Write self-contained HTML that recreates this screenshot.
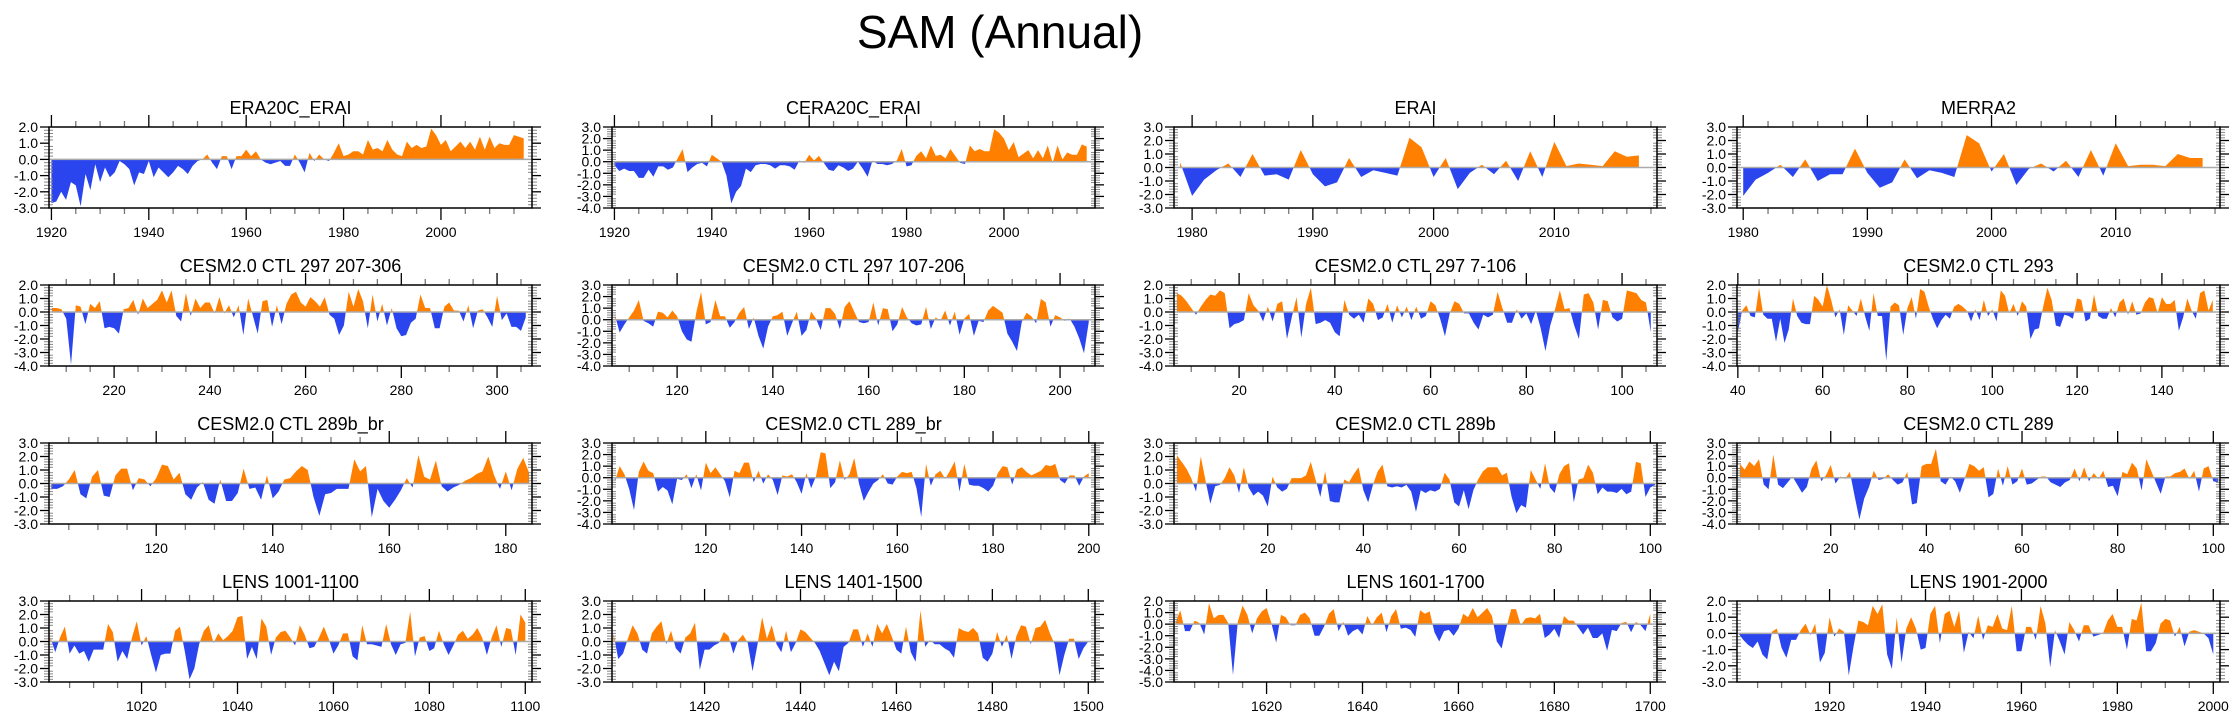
<!DOCTYPE html>
<html><head><meta charset="utf-8">
<style>
html,body{margin:0;padding:0;background:#fff;}
svg{display:block;font-family:"Liberation Sans",Arial,sans-serif;}
</style></head>
<body>
<svg id="chart" width="2238" height="719" viewBox="0 0 2238 719" xmlns="http://www.w3.org/2000/svg">
<text x="1000" y="48" font-size="46" text-anchor="middle" fill="#000">SAM (Annual)</text>
</svg>
<script>
// ---- data (one array per panel) ----
const titles = ["ERA20C_ERAI","CERA20C_ERAI","ERAI","MERRA2",
 "CESM2.0 CTL 297 207-306","CESM2.0 CTL 297 107-206","CESM2.0 CTL 297 7-106","CESM2.0 CTL 293",
 "CESM2.0 CTL 289b_br","CESM2.0 CTL 289_br","CESM2.0 CTL 289b","CESM2.0 CTL 289",
 "LENS 1001-1100","LENS 1401-1500","LENS 1601-1700","LENS 1901-2000"];
const startYears = [1920,1920,1979,1980, 207,107,7,40, 102,101,1,1, 1001,1401,1601,1901];
const xMins = [1919.5,1919.5,1978.5,1979.5, 206.4,106.4,6.4,39.8, 101.6,100.4,0.4,0.4, 1000.7,1400.7,1600.7,1900.7];
const xMaxs = [2018.7,2018.7,2018.5,2018.4, 307.3,207.3,107.3,153.7, 184.5,201.3,101.4,101.4, 1101.4,1501.4,1701.4,2001.4];
const yMins = [-3,-4,-3,-3, -4,-4,-4,-4, -3,-4,-3,-4, -3,-3,-5,-3];
const yMaxs = [2,3,3,3, 2,3,2,2, 3,3,3,3, 3,3,2,2];
const xMajor = [20,20,10,10, 20,20,20,20, 20,20,20,20, 20,20,20,20];
const xMinor = [5,5,2,2, 5,5,5,5, 5,5,5,5, 5,5,5,5];

const sEra20c = [-2.7,-2.6,-2.0,-2.5,-1.4,-1.6,-2.9,-0.9,-1.9,-0.3,-1.4,-0.5,-1.1,-0.8,-0.1,-0.3,-0.6,-1.6,-0.8,-0.9,-0.1,-1.1,-0.5,-0.8,-1.1,-0.8,-0.4,-0.6,-0.9,-0.4,-0.1,0.0,0.3,-0.2,-0.6,0.2,0.2,-0.6,0.2,0.2,0.6,0.2,0.5,0.0,-0.2,-0.3,-0.2,-0.1,-0.4,-0.4,0.3,-0.2,-0.8,0.4,-0.1,0.3,0.0,-0.1,0.4,1.0,0.2,0.3,0.5,0.5,0.3,1.2,0.6,0.7,0.5,1.2,0.6,0.3,0.2,1.1,0.7,0.9,0.7,0.8,1.9,1.5,0.9,1.2,0.5,0.8,1.1,0.7,1.1,0.6,1.4,0.6,1.4,0.7,1.0,0.9,0.9,1.5,1.4,1.3];
const sCera20c = [-0.3,-0.8,-0.6,-0.8,-0.8,-1.4,-1.4,-0.7,-1.3,-0.4,-0.4,-0.7,-0.5,0.3,1.1,-0.9,-0.5,-0.2,-0.1,-0.4,0.6,0.3,0.0,-1.2,-3.6,-2.6,-2.1,-0.6,-0.9,-0.3,-0.2,-0.2,-0.3,-0.6,-0.3,-0.3,-0.4,-0.7,0.1,-0.1,0.6,0.1,0.5,-0.1,-0.7,-0.8,-0.3,-0.5,-0.8,-0.6,0.0,-0.6,-1.3,0.1,-0.2,-0.2,-0.3,-0.2,0.1,1.1,-0.4,-0.3,0.5,0.9,0.3,1.4,0.5,0.6,0.3,1.1,0.5,-0.1,-0.2,1.4,0.9,1.1,0.9,0.9,2.8,2.5,2.0,1.0,1.7,0.4,0.7,1.0,0.3,1.0,0.3,1.4,-0.1,1.4,0.2,0.8,0.6,0.6,1.5,1.3];
const sErai = [0.4,-2.1,-0.9,-0.2,0.3,-0.7,1.0,-0.6,-0.5,-0.9,1.3,-0.5,-1.4,-1.1,0.7,-0.7,-0.2,-0.4,-0.6,2.2,1.5,-0.7,0.7,-1.6,-0.4,0.2,-0.5,0.5,-1.0,1.2,-0.7,1.9,0.1,0.3,0.2,0.1,1.2,0.8,0.9];
const sMerra2 = [-2.1,-0.9,-0.4,0.2,-0.7,0.6,-1.0,-0.5,-0.5,1.4,-0.4,-1.5,-1.1,0.6,-0.8,-0.2,-0.4,-0.7,2.4,1.8,-0.3,1.0,-1.3,-0.1,0.3,-0.3,0.5,-0.7,1.3,-0.6,1.8,0.1,0.2,0.2,0.1,1.0,0.7,0.7];
const sCtl297a = [0.3,0.3,0.2,-0.5,-3.9,0.5,0.4,-0.9,0.6,0.3,0.8,-1.2,-1.1,-1.2,-1.6,0.2,0.3,0.9,-0.2,1.0,0.3,0.6,0.9,1.6,0.7,1.6,-0.3,-0.7,1.4,-0.3,1.0,0.3,0.7,0.7,-0.1,1.1,-0.1,0.5,-0.4,0.5,-1.7,1.0,-0.3,-1.6,0.8,0.9,-1.1,0.5,-0.9,0.6,1.3,1.5,0.7,0.4,1.1,0.8,0.4,1.1,-0.2,-0.5,-1.7,-1.0,1.5,0.4,1.7,0.8,-1.2,1.3,-0.7,0.6,-1.0,0.3,-1.2,-1.8,-1.7,-0.8,-0.5,1.3,0.3,0.3,-1.2,-1.2,0.4,0.7,0.1,0.1,-0.7,0.5,-1.2,0.1,0.2,-0.4,-1.1,1.2,-0.6,-0.1,-1.1,-1.1,-1.4,-0.4];
const sCtl297b = [0.4,-1.1,-0.4,0.2,0.8,1.7,-0.1,-0.3,-0.6,0.7,0.6,0.2,0.8,0.3,-1.0,-1.7,-1.9,0.6,2.4,-0.4,-0.2,1.7,0.3,0.3,-0.7,-0.2,0.6,1.1,-0.8,0.2,-1.4,-2.5,-0.6,0.3,0.4,0.7,-1.4,-0.3,0.7,-1.4,-0.9,0.7,0.1,-0.9,1.0,1.0,0.5,-0.8,1.1,1.6,0.7,-0.2,-0.3,-0.2,1.5,-0.5,1.0,0.9,-1.0,-0.4,1.1,0.2,-0.3,-0.5,-0.4,1.1,-0.8,0.2,-0.1,0.8,-0.5,0.7,-1.3,0.1,0.5,-1.4,-0.1,-0.2,0.8,1.2,0.9,0.6,-1.2,-1.9,-2.7,-0.2,0.6,0.3,-0.3,1.8,1.5,-0.6,0.4,0.2,-0.1,0.1,-0.6,-1.6,-2.9,-0.2];
const sCtl297c = [1.4,1.2,0.8,0.3,-0.2,0.4,0.9,1.3,1.2,1.6,1.4,-1.2,-0.9,-0.8,-0.6,1.4,0.5,0.1,-0.7,0.4,-0.7,0.6,0.8,-2.0,-0.4,1.1,-1.9,0.6,1.8,-0.9,-0.8,-0.6,-0.8,-1.5,-1.8,0.9,-0.2,-0.5,-0.2,-0.8,1.0,0.6,-0.6,-0.4,0.6,-0.8,0.5,-0.4,0.4,-0.6,0.4,-0.5,-0.3,0.8,0.5,-0.5,-1.8,-0.1,0.8,0.6,-0.1,-0.1,-0.8,-1.3,-0.2,-0.4,-0.2,1.5,0.3,-0.8,-0.8,0.2,-0.5,-0.1,-0.9,0.1,-1.2,-2.9,-1.0,0.2,1.6,0.2,0.3,-1.0,-2.0,1.3,1.4,0.7,-1.3,0.9,0.8,-0.4,-0.7,-0.5,1.6,1.5,1.4,0.9,0.7,-1.5];
const sCtl293 = [-1.5,0.1,0.5,-0.3,-0.4,1.8,-0.2,-0.5,-0.5,-2.2,-0.5,-2.3,-1.3,1.0,-0.3,-0.8,-0.9,-0.9,1.2,0.9,0.4,2.0,0.9,-0.4,0.2,-1.7,0.5,0.1,-0.3,1.0,-0.3,-1.4,1.4,-0.3,-0.3,-3.6,0.4,0.7,0.5,-1.7,0.3,1.1,-0.5,1.7,1.5,0.4,-0.5,-1.2,-0.6,-0.2,-0.5,0.4,0.6,0.4,0.1,-0.7,0.2,-0.6,0.9,-0.3,0.2,-0.7,1.6,1.2,-0.1,0.6,-0.3,0.8,0.4,-2.0,-1.3,-1.2,0.4,1.8,0.9,-1.0,-1.1,-0.2,-0.3,-0.5,1.0,0.9,-0.7,-0.5,1.3,-0.3,-0.5,-0.5,0.3,-0.4,0.7,1.0,-0.2,0.8,-0.2,-0.1,0.7,1.1,1.0,-0.1,1.1,0.6,0.6,0.9,-1.4,-0.4,1.0,0.1,-0.5,1.4,1.6,0.1,0.9];
const sCtl289bbr = [-0.4,-0.4,-0.2,0.3,1.0,-0.8,-1.1,0.5,1.0,-0.9,-1.0,0.6,1.1,1.1,-0.5,0.4,0.3,-0.2,0.4,1.4,1.3,0.3,0.8,-0.8,-1.2,-0.3,0.1,-1.2,-1.5,0.3,-1.3,-1.3,-0.7,1.1,-0.4,-0.3,-1.2,0.6,-1.1,-0.6,0.3,0.4,0.9,1.3,1.0,-1.0,-2.4,-0.8,-0.7,-0.4,-0.4,-0.4,1.8,0.9,1.3,-2.5,-0.4,-1.3,-1.8,-1.2,-0.5,0.4,-0.3,2.1,0.5,0.3,1.7,-0.2,-0.6,-0.3,-0.1,0.2,0.4,0.7,0.9,2.0,0.6,-0.4,0.9,-0.5,1.1,1.9,0.8];
const sCtl289br = [-0.3,1.0,0.3,-1.0,-2.8,0.5,1.4,0.6,0.4,-1.2,-0.8,-1.1,-2.3,-0.1,-0.2,0.3,-0.9,0.3,-1.1,1.3,0.4,0.9,0.3,-0.3,-1.7,0.6,0.4,1.3,1.3,-0.4,0.6,-0.5,0.3,-0.2,-1.5,0.2,0.1,0.3,-0.4,-1.4,0.4,-0.9,0.1,2.2,2.1,-0.9,-0.4,1.5,-0.2,0.3,1.7,-0.5,-2.0,-1.2,-0.5,-0.2,0.3,-0.5,-0.6,0.1,0.5,0.4,0.5,-0.9,-3.4,1.2,-0.7,0.3,0.6,-0.1,0.6,1.4,-1.2,1.2,-0.6,-0.7,-0.7,-0.9,-1.2,-0.7,0.4,1.0,0.9,-0.6,0.7,0.9,0.5,0.2,0.4,0.6,1.1,1.0,1.2,-0.2,-0.5,0.2,0.2,-0.7,0.1,0.4];
const sCtl289b = [2.1,1.6,1.1,0.4,-0.6,2.0,0.2,-1.5,-0.2,-0.1,0.4,1.2,0.6,-0.7,1.2,-0.3,-0.9,-0.6,-0.9,-1.7,0.5,-0.3,-0.6,-0.4,0.4,0.4,0.4,0.6,1.6,0.3,-1.0,0.9,-1.3,-1.4,-1.4,0.3,0.1,0.7,1.2,-0.5,-1.4,-0.1,0.9,1.4,-0.2,-0.3,-0.2,-0.3,-0.1,-0.6,-2.1,-0.5,-0.7,-0.5,-0.6,-0.4,0.8,0.3,-1.4,-1.7,-0.5,-1.9,-0.5,0.3,0.9,1.2,1.2,1.2,0.6,0.8,-1.0,-2.2,-1.6,-1.8,1.0,0.3,-0.4,1.5,-0.3,-0.7,0.7,1.3,1.5,-1.4,0.3,0.4,1.4,0.8,-0.8,-0.3,-0.6,-0.6,-0.7,-0.4,-0.8,-0.6,1.6,1.5,-1.0,-0.3,-0.1];
const sCtl289 = [1.2,0.7,1.4,1.0,1.6,-0.6,-1.0,2.0,-0.6,-0.9,-0.4,0.1,-0.6,-1.3,-0.8,0.8,1.5,-0.3,0.2,1.1,-0.5,0.1,-0.1,0.5,-1.6,-3.6,-1.8,-0.8,0.6,-0.2,-0.1,0.3,-0.2,-0.6,-0.4,0.5,-2.3,-2.2,1.0,1.2,1.2,2.5,-0.3,-0.6,0.1,-0.3,-1.3,-0.1,1.2,1.0,0.6,0.9,-1.7,-1.4,0.8,-0.7,1.0,-0.6,-0.3,0.8,-0.6,-0.5,-0.2,0.1,0.1,-0.4,-0.6,-0.8,-0.4,-0.2,0.8,-0.3,0.9,-0.3,0.4,-0.1,0.6,-0.8,-0.7,-1.6,0.5,0.3,1.3,0.8,-1.1,1.6,0.6,-0.4,-1.4,0.1,0.1,0.4,0.5,0.8,-0.1,0.6,-1.2,0.8,1.0,-0.3,-0.4];
const sLens1001 = [0.3,-0.8,0.3,1.1,-0.9,-0.3,-0.9,-0.7,-1.5,-0.6,-0.6,-0.6,1.3,0.7,-1.5,-0.7,-1.3,0.3,1.5,-0.3,0.4,-1.0,-2.3,-1.0,-0.9,-0.9,0.8,1.1,-0.7,-2.8,-2.0,-0.2,0.8,1.2,-0.1,0.6,0.1,0.4,0.8,1.8,1.9,-1.3,-0.4,-1.3,1.7,1.1,-1.0,0.3,0.7,0.8,0.3,-0.3,1.2,0.5,-0.5,-0.4,0.3,1.1,0.2,-0.9,-0.3,0.6,0.6,-1.1,-1.4,1.2,-0.2,-0.2,-0.3,-0.4,1.3,-0.2,-1.0,-0.2,-0.1,2.2,-1.1,0.3,0.4,-0.7,-0.5,0.8,-0.2,-1.0,-0.3,0.5,0.8,0.2,0.5,1.0,0.3,-1.0,0.3,1.2,-0.4,1.0,0.9,-1.0,2.0,1.4];
const sLens1401 = [0.6,-1.3,-0.9,0.2,1.2,0.6,-0.6,-0.9,0.6,1.1,1.5,-0.2,0.8,-0.5,-0.9,0.3,0.6,1.4,-2.1,-0.6,-0.6,-0.3,-0.1,0.7,0.4,-0.9,0.1,0.5,-0.1,-2.2,-0.3,1.8,0.2,1.2,-0.2,-0.8,0.8,-0.8,-0.1,0.9,0.7,0.3,-0.1,-0.7,-1.6,-2.5,-1.5,-2.2,-0.4,-0.1,0.9,0.9,-0.4,0.6,-0.4,1.3,0.6,1.3,0.4,-0.6,-0.9,1.1,-0.8,-1.5,2.3,-0.4,0.1,-0.2,-0.2,-0.5,-0.7,-1.2,1.0,0.8,0.7,1.0,0.6,-1.2,-1.5,-0.9,0.7,-0.4,0.5,-1.3,0.4,1.2,1.1,-0.2,1.0,1.1,1.6,0.6,-0.2,-2.5,-1.0,0.2,0.2,-1.3,-0.5,0.0];
const sLens1601 = [0.1,1.2,-0.6,-0.6,0.3,0.1,-0.9,1.8,0.5,0.8,0.8,0.1,-4.4,0.2,1.6,0.8,-0.8,0.5,1.1,1.4,0.1,-1.6,0.8,0.6,-0.1,-0.1,0.8,1.0,0.5,-1.0,-1.0,-0.2,0.9,1.3,-0.6,0.2,-1.0,-0.6,-0.4,-0.9,0.7,-0.1,0.6,1.0,-0.7,0.7,1.3,-0.4,-0.3,-0.5,-1.1,1.2,0.9,1.1,-0.7,-1.5,-0.6,-0.5,-1.0,-0.4,0.9,0.6,1.4,0.6,1.0,1.4,0.7,-1.5,-2.1,-0.3,1.3,1.3,-0.1,0.5,0.6,0.5,0.9,-1.2,-0.9,-0.4,-1.2,0.7,0.3,0.3,-0.3,-0.9,-0.3,-1.2,-1.2,-0.8,-2.3,-0.5,-0.6,0.1,0.2,-0.7,0.2,-0.1,-0.6,0.9];
const sLens1901 = [0.0,-0.4,-0.7,-0.9,-0.5,-1.3,-1.6,0.1,0.3,-0.9,-1.5,-0.4,-0.4,0.2,0.6,-0.1,0.6,-1.8,-1.2,1.0,-0.2,0.3,0.1,-2.6,-0.8,0.8,0.7,0.5,1.7,1.2,1.8,-1.3,-2.2,1.0,-1.8,0.3,1.0,0.3,-1.0,-0.9,1.2,1.7,-0.6,1.2,1.4,0.4,1.4,-1.2,0.1,-0.3,1.1,-0.4,0.5,0.4,1.2,0.3,0.2,1.7,-1.1,-1.1,0.4,0.4,-0.4,1.7,0.6,-2.1,0.2,-0.5,-1.3,0.7,0.2,-0.5,0.5,0.5,-0.2,-0.1,0.0,0.8,1.2,0.4,0.4,-1.0,0.9,0.8,1.9,-1.1,-1.1,-0.6,0.6,0.9,0.8,-0.2,0.4,-0.8,0.1,0.2,0.1,0.0,-0.3,-1.3];

const series = [sEra20c,sCera20c,sErai,sMerra2,sCtl297a,sCtl297b,sCtl297c,sCtl293,
 sCtl289bbr,sCtl289br,sCtl289b,sCtl289,sLens1001,sLens1401,sLens1601,sLens1901];

// ---- layout ----
const NS = "http://www.w3.org/2000/svg";
const svg = document.getElementById("chart");
const colLefts = [49,612,1174,1737], rowTops = [127,285,443,601];
const PW = 483, PH = 81;
function mk(tag, attrs, parent){
  const e = document.createElementNS(NS, tag);
  for (const k in attrs) e.setAttribute(k, attrs[k]);
  (parent||svg).appendChild(e);
  return e;
}
function fmt(v){ return (Math.abs(v)<1e-9?0:v).toFixed(1); }

const defs = mk("defs", {});
for (let p = 0; p < 16; p++) {
  const x0 = colLefts[p % 4], y0 = rowTops[Math.floor(p / 4)];
  const x1 = x0 + PW, y1 = y0 + PH;
  const xmin = xMins[p], xmax = xMaxs[p], ymin = yMins[p], ymax = yMaxs[p];
  const sx = v => x0 + (v - xmin) / (xmax - xmin) * PW;
  const sy = v => y1 - (v - ymin) / (ymax - ymin) * PH;
  const g = mk("g", {});
  
  

  const t = mk("text", {x: x0 + PW / 2, y: y0 - 13, "font-size": 18, "text-anchor": "middle"}, g);
  
  
  t.textContent = titles[p];

  const zy = sy(0);
  const cu = mk("clipPath", {id: "cu" + p}, defs);
  mk("rect", {x: x0, y: y0, width: PW, height: zy - y0}, cu);
  const cd = mk("clipPath", {id: "cd" + p}, defs);
  mk("rect", {x: x0, y: zy, width: PW, height: y1 - zy}, cd);

  const vals = series[p];
  let d = "M" + sx(startYears[p]).toFixed(2) + "," + zy.toFixed(2);
  for (let i = 0; i < vals.length; i++) d += " L" + sx(startYears[p] + i).toFixed(2) + "," + sy(vals[i]).toFixed(2);
  d += " L" + sx(startYears[p] + vals.length - 1).toFixed(2) + "," + zy.toFixed(2) + " Z";
  const up = mk("path", {d: d, fill: "#ff8000", "clip-path": "url(#cu" + p + ")"}, g);
  
  
  const dn = mk("path", {d: d, fill: "#2b45ee", "clip-path": "url(#cd" + p + ")"}, g);
  
  
  const zl = mk("line", {x1: x0, x2: x1, y1: zy, y2: zy, stroke: "#aaaaaa", "stroke-width": 1.5}, g);
  
  

  for (let v = ymin; v <= ymax + 1e-6; v += 0.2) {
    const y = sy(v);
    const major = Math.abs(v - Math.round(v)) < 1e-6;
    if (major) {
      mk("line", {x1: x0 - 9, x2: x0, y1: y, y2: y, stroke: "#000", "stroke-width": 1.3}, g);
      mk("line", {x1: x1, x2: x1 + 9, y1: y, y2: y, stroke: "#000", "stroke-width": 1.3}, g);
      const lb = mk("text", {x: x0 - 11, y: y + 5, "font-size": 14, "text-anchor": "end"}, g);
      
      
      lb.textContent = fmt(Math.round(v));
    } else {
      mk("line", {x1: x0 - 5, x2: x0 + 4, y1: y, y2: y, stroke: "#888", "stroke-width": 1}, g);
      mk("line", {x1: x1 - 4, x2: x1 + 5, y1: y, y2: y, stroke: "#888", "stroke-width": 1}, g);
    }
  }
  const mn = xMinor[p], mj = xMajor[p];
  for (let v = Math.ceil(xmin / mn) * mn; v <= xmax; v += mn) {
    const x = sx(v);
    const major = v % mj === 0;
    const L = major ? 12 : 6;
    mk("line", {x1: x, x2: x, y1: y1, y2: y1 + L, stroke: major ? "#000" : "#777", "stroke-width": 1.3}, g);
    mk("line", {x1: x, x2: x, y1: y0 - L, y2: y0, stroke: major ? "#000" : "#777", "stroke-width": 1.3}, g);
    if (major) {
      const lb = mk("text", {x: x, y: y1 + 29, "font-size": 14, "text-anchor": "middle"}, g);
      
      
      lb.textContent = String(v);
    }
  }
  const box = mk("rect", {x: x0, y: y0, width: PW, height: PH, fill: "none", stroke: "#000", "stroke-width": 1.5}, g);
  
  
}
</script>
</body></html>
